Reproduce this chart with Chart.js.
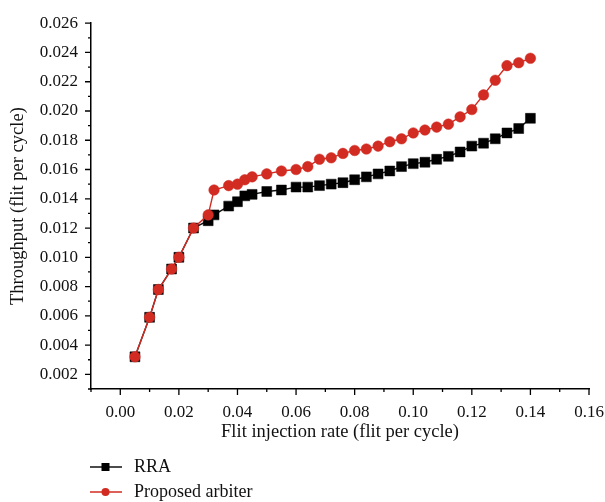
<!DOCTYPE html>
<html>
<head>
<meta charset="utf-8">
<script src="https://cdn.jsdelivr.net/npm/chart.js@4/dist/chart.umd.min.js"></script>
<style>
  html, body { margin: 0; padding: 0; background: #fff; }
  canvas { display: block; }
</style>
</head>
<body>
<canvas id="graficoThroughput" width="605" height="502"></canvas>
<script>
// valores
const injectionRate = [0.005, 0.01, 0.013, 0.0175, 0.02, 0.025, 0.03, 0.032, 0.037, 0.04,
  0.0425, 0.045, 0.05, 0.055, 0.06, 0.064, 0.068, 0.072, 0.076, 0.08,
  0.084, 0.088, 0.092, 0.096, 0.1, 0.104, 0.108, 0.112, 0.116, 0.12,
  0.124, 0.128, 0.132, 0.136, 0.14];

const rraThroughput = [0.0032, 0.0059, 0.0078, 0.0092, 0.0100, 0.0120, 0.0125, 0.0129, 0.0135, 0.0138,
  0.0142, 0.0143, 0.0145, 0.0146, 0.0148, 0.0148, 0.0149, 0.0150, 0.0151, 0.0153,
  0.0155, 0.0157, 0.0159, 0.0162, 0.0164, 0.0165, 0.0167, 0.0169, 0.0172, 0.0176,
  0.0178, 0.0181, 0.0185, 0.0188, 0.0195];

const proposedThroughput = [0.0032, 0.0059, 0.0078, 0.0092, 0.0100, 0.0120, 0.0129, 0.0146, 0.0149, 0.0150,
  0.0153, 0.0155, 0.0157, 0.0159, 0.0160, 0.0162, 0.0167, 0.0168, 0.0171, 0.0173,
  0.0174, 0.0176, 0.0179, 0.0181, 0.0185, 0.0187, 0.0189, 0.0191, 0.0196, 0.0201,
  0.0211, 0.0221, 0.0231, 0.0233, 0.0236];

const seriesNames = ['RRA', 'Proposed arbiter'];

const xTickValues = [0.00, 0.02, 0.04, 0.06, 0.08, 0.10, 0.12, 0.14, 0.16];
const yTickValues = [0.002, 0.004, 0.006, 0.008, 0.010, 0.012, 0.014, 0.016, 0.018, 0.020, 0.022, 0.024, 0.026];

const fonte = 'Liberation Serif, Times New Roman, serif';
const vermelho = '#d22b22';

// marcas de escala (maiores e menores) para fora dos eixos
const tickMarks = {
  id: 'tickMarks',
  afterDraw(chart) {
    const ctx = chart.ctx;
    const xs = chart.scales.x, ys = chart.scales.y;
    ctx.save();
    ctx.strokeStyle = '#000';
    ctx.lineWidth = 1.3;
    ctx.beginPath();
    for (let i = -1; i <= 16; i++) {
      const px = xs.getPixelForValue(i / 100);
      const len = i % 2 === 0 ? 6 : 3;
      ctx.moveTo(px, xs.top);
      ctx.lineTo(px, xs.top + len);
    }
    for (let i = 1; i <= 26; i++) {
      const py = ys.getPixelForValue(i / 1000);
      const len = i % 2 === 0 ? 6 : 3;
      ctx.moveTo(ys.right, py);
      ctx.lineTo(ys.right - len, py);
    }
    ctx.stroke();
    ctx.restore();
  }
};

// legenda em baixo com linha + marcador
const lineLegend = {
  id: 'lineLegend',
  afterDraw(chart) {
    const ctx = chart.ctx;
    chart.data.datasets.forEach((ds, i) => {
      const y = 467 + i * 25;
      ctx.save();
      ctx.strokeStyle = ds.borderColor;
      ctx.lineWidth = 1.5;
      ctx.beginPath();
      ctx.moveTo(90, y);
      ctx.lineTo(122, y);
      ctx.stroke();
      ctx.fillStyle = ds.pointBackgroundColor;
      if (ds.pointStyle === 'rect') {
        ctx.fillRect(101.5, y - 4, 8, 8);
      } else {
        ctx.beginPath();
        ctx.arc(105.5, y, 4, 0, Math.PI * 2);
        ctx.fill();
      }
      ctx.fillStyle = '#111';
      ctx.font = '18px ' + fonte;
      ctx.textBaseline = 'middle';
      ctx.fillText(ds.label, 134, y);
      ctx.restore();
    });
  }
};

const ctx = document.getElementById('graficoThroughput').getContext('2d');
const grafico = new Chart(ctx, {
  type: 'line',
  data: {
    datasets: [
      {
        label: seriesNames[0],
        data: injectionRate.map((x, i) => ({ x: x, y: rraThroughput[i] })),
        borderColor: '#111',
        backgroundColor: '#000',
        pointBackgroundColor: '#000',
        pointBorderColor: '#000',
        pointStyle: 'rect',
        pointRadius: 7,
        pointBorderWidth: 0.5,
        borderWidth: 1.4,
        order: 1
      },
      {
        label: seriesNames[1],
        data: injectionRate.map((x, i) => ({ x: x, y: proposedThroughput[i] })),
        borderColor: vermelho,
        backgroundColor: vermelho,
        pointBackgroundColor: vermelho,
        pointBorderColor: vermelho,
        pointStyle: 'circle',
        pointRadius: 5.3,
        pointBorderWidth: 0.5,
        borderWidth: 1.4,
        order: 0
      }
    ]
  },
  options: {
    responsive: false,
    animation: false,
    layout: { padding: { top: 21, right: 16, bottom: 61, left: 0 } },
    plugins: {
      legend: { display: false },
      tooltip: { enabled: false }
    },
    scales: {
      x: {
        type: 'linear',
        min: -0.01,
        max: 0.16,
        afterBuildTicks: s => { s.ticks = xTickValues.map(v => ({ value: v })); },
        afterFit: s => { s.height = 52; },
        // marcas invisiveis so para afastar os rotulos do eixo
        grid: { display: true, drawOnChartArea: false, drawTicks: true, tickLength: 13, tickColor: 'rgba(0,0,0,0)' },
        border: { display: true, color: '#000', width: 1.5 },
        ticks: {
          padding: 0,
          color: '#111',
          font: { family: fonte, size: 17 },
          maxRotation: 0,
          callback: v => v.toFixed(2)
        },
        title: {
          display: true,
          text: 'Flit injection rate (flit per cycle)',
          color: '#111',
          font: { family: fonte, size: 18.5 },
          padding: { top: 0, bottom: -2 }
        }
      },
      y: {
        min: 0.001,
        max: 0.026,
        afterBuildTicks: s => { s.ticks = yTickValues.map(v => ({ value: v })); },
        afterFit: s => { s.width = 91; },
        grid: { display: true, drawOnChartArea: false, drawTicks: false },
        border: { display: true, color: '#000', width: 1.5 },
        ticks: {
          padding: 13,
          color: '#111',
          font: { family: fonte, size: 17 },
          callback: v => v.toFixed(3)
        },
        title: {
          display: true,
          text: 'Throughput (flit per cycle)',
          color: '#111',
          font: { family: fonte, size: 18.5 },
          padding: { top: 7, bottom: 0 }
        }
      }
    }
  },
  plugins: [tickMarks, lineLegend]
});
</script>
</body>
</html>
